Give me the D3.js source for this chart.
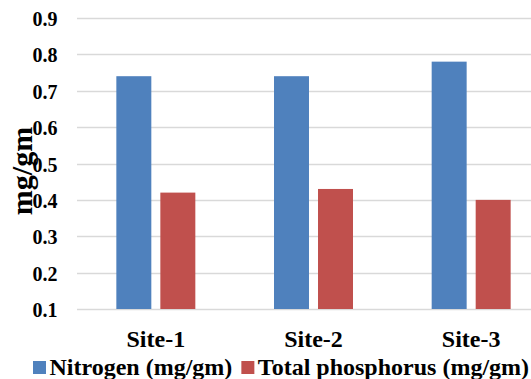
<!DOCTYPE html>
<html>
<head>
<meta charset="utf-8">
<script src="https://cdn.jsdelivr.net/npm/d3@7"></script>
<style>
  html, body { margin: 0; padding: 0; background: #fff; }
  svg { display: block; }
  svg text { font-family: "Liberation Serif", "Times New Roman", serif; font-weight: bold; fill: #000; }
</style>
</head>
<body>
<svg id="chart" width="531" height="379"></svg>
<script>
// Nutrient content at three sampling sites
const sites = ["Site-1", "Site-2", "Site-3"];
const seriesNames = ["Nitrogen (mg/gm)", "Total phosphorus (mg/gm)"];
const nitrogen = [0.74, 0.74, 0.78];
const phosphorus = [0.42, 0.43, 0.40];
const yTicks = [0.1, 0.2, 0.3, 0.4, 0.5, 0.6, 0.7, 0.8, 0.9];
const colors = ["#4f81bd", "#c0504d"];
const yTitle = "mg/gm";

const rows = sites.map((s, i) => ({ site: s, values: [nitrogen[i], phosphorus[i]] }));

const svg = d3.select("#chart");
const plot = { left: 77, right: 550, top: 18, bottom: 309 };

const x0 = d3.scaleBand().domain(sites).range([plot.left, plot.right]).padding(0);
const x1 = d3.scaleBand().domain(d3.range(seriesNames.length))
  .range([0, x0.bandwidth()]).paddingInner(0.205).paddingOuter(0.894);
const y = d3.scaleLinear().domain([0.1, 0.9]).range([plot.bottom, plot.top]);

// horizontal gridlines
svg.append("g").selectAll("line").data(yTicks).join("line")
  .attr("x1", plot.left).attr("x2", plot.right)
  .attr("y1", d => Math.round(y(d)) + 0.5).attr("y2", d => Math.round(y(d)) + 0.5)
  .attr("stroke", "#d9d9d9").attr("stroke-width", 1.5);

// y axis tick labels
const yAxis = d3.axisLeft(y).tickValues(yTicks).tickFormat(d3.format(".1f")).tickSize(0).tickPadding(0);
const yg = svg.append("g").attr("transform", `translate(${plot.left - 19.5},0)`).call(yAxis)
  .attr("font-family", null).attr("font-size", null);
yg.select(".domain").remove();
yg.selectAll("text").style("font-size", "20px").attr("fill", null).attr("dy", "0.38em");

// bars
const groups = svg.append("g").selectAll("g").data(rows).join("g")
  .attr("transform", d => `translate(${x0(d.site)},0)`);
groups.selectAll("rect").data(d => d.values.map((v, k) => ({ k, v }))).join("rect")
  .attr("x", d => x1(d.k))
  .attr("width", x1.bandwidth())
  .attr("y", d => y(d.v))
  .attr("height", d => y(0.1) - y(d.v))
  .attr("fill", d => colors[d.k]);

// category labels
const xAxis = d3.axisBottom(x0).tickSize(0).tickPadding(0);
const xg = svg.append("g").attr("transform", `translate(0,${plot.bottom})`).call(xAxis)
  .attr("font-family", null).attr("font-size", null);
xg.select(".domain").remove();
xg.selectAll("text").style("font-size", "24px").attr("fill", null).attr("dy", null).attr("y", 38);

// y axis title
svg.append("text")
  .attr("transform", "translate(32,171) rotate(-90)")
  .attr("text-anchor", "middle")
  .style("font-size", "30px")
  .text(yTitle);

// legend
const legend = svg.append("g");
let lx = 33;
seriesNames.forEach((name, k) => {
  legend.append("rect").attr("x", lx).attr("y", 361).attr("width", 13).attr("height", 13).attr("fill", colors[k]);
  const t = legend.append("text").attr("x", lx + 16.5).attr("y", 375)
    .style("font-size", "24px").text(name);
  lx = lx + 16.5 + t.node().getComputedTextLength() + 9;
});
</script>
</body>
</html>
